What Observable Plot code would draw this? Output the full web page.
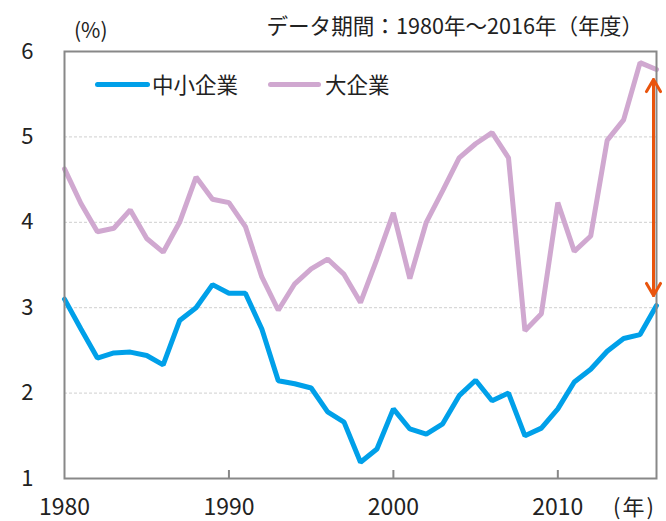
<!DOCTYPE html>
<html>
<head>
<meta charset="utf-8">
<script src="https://cdn.jsdelivr.net/npm/d3@7"></script>
<script src="https://cdn.jsdelivr.net/npm/@observablehq/plot@0.6"></script>
<style>
  html, body { margin: 0; padding: 0; background: #fff; }
  #wrap { position: relative; width: 666px; height: 521px; overflow: hidden;
    font-family: "Noto Sans CJK JP", "Noto Sans", sans-serif; color: #222; }
  .ov { position: absolute; white-space: nowrap; line-height: 1; }
  .sw { position: absolute; height: 5px; border-radius: 3px; }
</style>
</head>
<body>
<div id="wrap"></div>
<script>
// ---- data ----
const years = d3.range(1980, 2017);
const smeRate = [
  3.10, 2.75, 2.41, 2.47, 2.48, 2.44, 2.33, 2.85, 3.00, 3.27,
  3.17, 3.17, 2.75, 2.145, 2.11, 2.06, 1.78, 1.66, 1.19, 1.345,
  1.815, 1.58, 1.52, 1.64, 1.97, 2.15, 1.91, 2.00, 1.50, 1.59,
  1.815, 2.13, 2.28, 2.49, 2.64, 2.685, 3.025
];
const largeRate = [
  4.625, 4.22, 3.89, 3.93, 4.145, 3.81, 3.65, 4.00, 4.53, 4.27,
  4.23, 3.95, 3.36, 2.97, 3.28, 3.455, 3.57, 3.39, 3.06, 3.57,
  4.11, 3.34, 4.00, 4.37, 4.755, 4.92, 5.05, 4.755, 2.73, 2.93,
  4.23, 3.66, 3.84, 4.96, 5.20, 5.87, 5.79
];
const seriesNames = ["中小企業", "大企業"];
const seriesColors = ["#00a0e9", "#d0a8d0"];
const xTickValues = [1980, 1990, 2000, 2010];
const xInnerTicks = [1990, 2000, 2010];
const yTickValues = [1, 2, 3, 4, 5, 6];
const yGridValues = [2, 3, 4, 5];
const titleText = "データ期間：1980年～2016年（年度）";
const yUnit = "(%)";
const xUnit = "(年)";
const arrowColor = "#e9540d";

// ---- table ----
const rows = years.map((yr, i) => ({year: yr, sme: smeRate[i], large: largeRate[i]}));
const last = rows[rows.length - 1];
const yMin = 1;

const chart = Plot.plot({
  width: 666,
  height: 521,
  marginLeft: 64,
  marginRight: 10,
  marginTop: 51,
  marginBottom: 43,
  style: {fontFamily: "'Noto Sans CJK JP', sans-serif", background: "#fff", color: "#222", overflow: "visible"},
  x: {domain: [1980, 2016], label: null},
  y: {domain: [1, 6], label: null},
  marks: [
    Plot.gridY(yGridValues, {stroke: "#cfcfcf", strokeOpacity: 1, strokeDasharray: "3,2", strokeWidth: 1}),
    Plot.axisY(yTickValues, {tickSize: 0, tickPadding: 31, fontSize: 22, label: null, tickFormat: d => String(d)}),
    Plot.axisX(xTickValues, {tickSize: 0, tickPadding: 20, fontSize: 23, label: null, tickFormat: d => String(d)}),
    Plot.ruleX(xInnerTicks, {x: d => d, y1: yMin, y2: yMin, insetTop: -8, stroke: "#888", strokeWidth: 2}),
    Plot.line(rows, {x: "year", y: "large", stroke: seriesColors[1], strokeWidth: 5, strokeLinejoin: "miter"}),
    Plot.line(rows, {x: "year", y: "sme", stroke: seriesColors[0], strokeWidth: 5, strokeLinejoin: "miter"}),
    Plot.frame({stroke: "#888", strokeWidth: 2}),
    Plot.arrow([last], {x1: "year", x2: "year", y1: "large", y2: "sme", dx: -3,
      insetStart: 10, insetEnd: 10, stroke: arrowColor, strokeWidth: 3, headLength: 7, headAngle: 60}),
    Plot.arrow([last], {x1: "year", x2: "year", y1: "sme", y2: "large", dx: -3,
      insetStart: 10, insetEnd: 10, stroke: arrowColor, strokeWidth: 3, headLength: 7, headAngle: 60})
  ]
});

const wrap = document.getElementById("wrap");
wrap.appendChild(chart);

function addText(txt, css) {
  const d = document.createElement("div");
  d.className = "ov";
  d.textContent = txt;
  Object.assign(d.style, css);
  wrap.appendChild(d);
  return d;
}
function addSwatch(color, css) {
  const d = document.createElement("div");
  d.className = "sw";
  d.style.background = color;
  Object.assign(d.style, css);
  wrap.appendChild(d);
}

addText(titleText, {right: "23px", top: "14px", fontSize: "21.6px"});
addText(yUnit, {left: "74px", top: "19px", fontSize: "21px"});
addText(xUnit, {left: "613px", top: "494px", fontSize: "22px", letterSpacing: "2px"});

// legend
addSwatch(seriesColors[0], {left: "95px", top: "82px", width: "55px"});
addText(seriesNames[0], {left: "152px", top: "73px", fontSize: "21.5px"});
addSwatch(seriesColors[1], {left: "268px", top: "82px", width: "53px"});
addText(seriesNames[1], {left: "325px", top: "73px", fontSize: "21.5px"});
</script>
</body>
</html>
